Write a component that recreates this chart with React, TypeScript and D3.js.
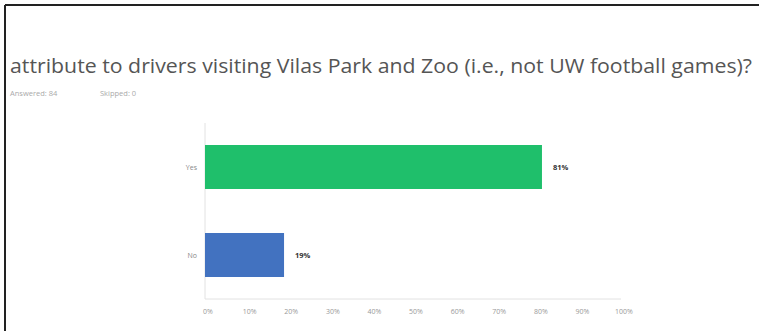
import React from "react";
import * as d3 from "d3";

const categories = ["Yes", "No"];
const values = [81, 19];
const valueLabels = ["81%", "19%"];
const tickValues = [0, 10, 20, 30, 40, 50, 60, 70, 80, 90, 100];
const barColors = ["#1fbf6b", "#4272c0"];
const titleText = "attribute to drivers visiting Vilas Park and Zoo (i.e., not UW football games)?";
const answeredText = "Answered: 84";
const skippedText = "Skipped: 0";

export default function App() {
  const W = 759, H = 331;
  const x = d3.scaleLinear().domain([0, 100]).range([205, 621]);
  const y = d3.scaleBand<string>().domain(categories).range([123, 299]).paddingInner(0.5).paddingOuter(0.25);
  const font = "'Open Sans', 'Noto Sans', sans-serif";
  return (
    <svg width={W} height={H} style={{ position: "fixed", left: 0, top: 0, background: "#fff" }}>
      <rect x={0} y={0} width={W} height={H} fill="#fff" />
      <line x1={5} y1={5} x2={W} y2={5} stroke="#222" strokeWidth={2} />
      <line x1={5} y1={5} x2={5} y2={H} stroke="#222" strokeWidth={2} />
      <text x={10} y={73} fontFamily={font} fontSize={19.5} fill="#555" textLength={742} lengthAdjust="spacingAndGlyphs">{titleText}</text>
      <text x={10} y={96} fontFamily={font} fontSize={7.5} fill="#aaa">{answeredText}</text>
      <text x={100} y={96} fontFamily={font} fontSize={7.5} fill="#aaa">{skippedText}</text>
      <line x1={x(0)} y1={123} x2={x(0)} y2={299} stroke="#e2e2e2" strokeWidth={1} />
      <line x1={x(0)} y1={299} x2={x(100)} y2={299} stroke="#e2e2e2" strokeWidth={1} />
      {categories.map((c, i) => (
        <g key={c}>
          <rect x={x(0)} y={y(c)!} width={x(values[i]) - x(0)} height={y.bandwidth()} fill={barColors[i]} />
          <text x={197} y={y(c)! + y.bandwidth() / 2 + 3} textAnchor="end" fontFamily={font} fontSize={7} fill="#888">{c}</text>
          <text x={x(values[i]) + 11} y={y(c)! + y.bandwidth() / 2 + 3} fontFamily={font} fontSize={7.5} fontWeight="bold" fill="#333">{valueLabels[i]}</text>
        </g>
      ))}
      {tickValues.map((t) => (
        <text key={t} x={x(t) + 3} y={314} textAnchor="middle" fontFamily={font} fontSize={7} fill="#999">{t + "%"}</text>
      ))}
    </svg>
  );
}
